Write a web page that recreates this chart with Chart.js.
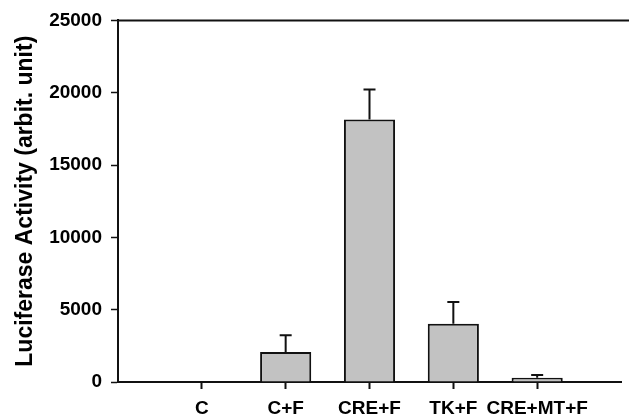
<!DOCTYPE html>
<html>
<head>
<meta charset="utf-8">
<script src="https://cdn.jsdelivr.net/npm/chart.js@4/dist/chart.umd.min.js"></script>
<style>
  html, body { margin: 0; padding: 0; background: #fff; }
  #wrap { width: 629px; height: 420px; }
</style>
</head>
<body>
<div id="wrap"><canvas id="chart"></canvas></div>
<script>
// Luciferase-Werte
const categories = ["C", "C+F", "CRE+F", "TK+F", "CRE+MT+F"];
const means      = [30, 2080, 18150, 4030, 300];
const errors     = [0, 1150, 2080, 1500, 180];
const yTicks     = [0, 5000, 10000, 15000, 20000, 25000];

// leere Plätze links/rechts, damit die Kategorien wie im Original sitzen
const labels  = ["", ...categories, ""];
const barData = [null, ...means, null];
const errData = [null, ...errors, null];

const FONT = "'Liberation Sans', Arial, sans-serif";

// ─────────────────────────────────────────────
// Plugins: obere Rahmenlinie + Fehlerbalken
// ─────────────────────────────────────────────

const frameTop = {
  id: "frameTop",
  afterDraw(chart) {
    const { ctx, chartArea } = chart;
    ctx.save();
    ctx.strokeStyle = "#111";
    ctx.lineWidth = 2;
    ctx.beginPath();
    ctx.moveTo(chartArea.left, chartArea.top);
    ctx.lineTo(chart.width, chartArea.top);
    ctx.stroke();
    ctx.restore();
  },
};

const errorBars = {
  id: "errorBars",
  afterDatasetsDraw(chart) {
    const { ctx } = chart;
    const meta = chart.getDatasetMeta(0);
    const y = chart.scales.y;
    ctx.save();
    ctx.strokeStyle = "#111";
    ctx.lineWidth = 2;
    meta.data.forEach((bar, i) => {
      const err = errData[i];
      if (!err) return;
      const top = y.getPixelForValue(barData[i] + err);
      ctx.beginPath();
      ctx.moveTo(bar.x, bar.y);
      ctx.lineTo(bar.x, top);
      ctx.moveTo(bar.x - 6, top);
      ctx.lineTo(bar.x + 6, top);
      ctx.stroke();
    });
    ctx.restore();
  },
};

new Chart(document.getElementById("chart"), {
  type: "bar",
  data: {
    labels,
    datasets: [{
      data: barData,
      backgroundColor: "#c2c2c2",
      borderColor: "#111",
      borderWidth: 2,
      borderSkipped: "bottom",
      barPercentage: 0.61,
      categoryPercentage: 1,
    }],
  },
  options: {
    responsive: true,
    maintainAspectRatio: false,
    animation: false,
    layout: { padding: { top: 20, right: 0, left: 0, bottom: 0 } },
    plugins: { legend: { display: false }, tooltip: { enabled: false } },
    scales: {
      x: {
        offset: false,
        afterFit(scale) { scale.height = 38; },
        grid: {
          offset: false,
          drawOnChartArea: false,
          drawTicks: true,
          tickLength: 7,
          tickWidth: 2,
          tickColor: ctx => (labels[ctx.index] ? "#111" : "rgba(0,0,0,0)"),
        },
        border: { color: "#111", width: 2 },
        ticks: {
          color: "#000",
          padding: 8,
          maxRotation: 0,
          autoSkip: false,
          font: { family: FONT, size: 19, weight: "bold" },
        },
      },
      y: {
        min: 0,
        max: 25000,
        afterFit(scale) { scale.width = 118; },
        afterBuildTicks(scale) { scale.ticks = yTicks.map(v => ({ value: v })); },
        grid: { drawOnChartArea: false, drawTicks: true, tickLength: 7, tickWidth: 1.5, tickColor: "#111" },
        border: { color: "#111", width: 2 },
        ticks: {
          color: "#000",
          padding: 9,
          callback: v => String(v),
          font: { family: FONT, size: 19, weight: "bold" },
        },
        title: {
          display: true,
          text: "Luciferase Activity (arbit. unit)",
          color: "#000",
          padding: { top: 12, bottom: 0 },
          font: { family: FONT, size: 23, weight: "bold" },
        },
      },
    },
  },
  plugins: [frameTop, errorBars],
});
</script>
</body>
</html>
